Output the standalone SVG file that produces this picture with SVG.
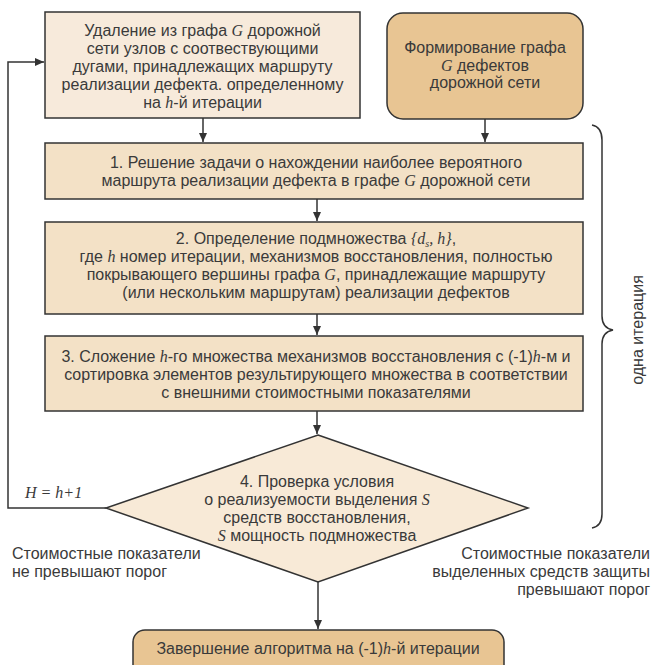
<svg xmlns="http://www.w3.org/2000/svg" width="651" height="665" viewBox="0 0 651 665">
<style>
.t{font-family:"Liberation Sans",Arial,sans-serif;font-size:16px;fill:#3a3a3a;text-anchor:middle}
.i{font-family:"Liberation Serif","Times New Roman",serif;font-style:italic}
.bx{stroke:#333;stroke-width:1.5}
.c{fill:none;stroke:#333;stroke-width:1.5}
</style>
<defs>
<marker id="ah" markerWidth="10" markerHeight="10" refX="9" refY="5" orient="auto" markerUnits="userSpaceOnUse">
<path d="M0,1 L9,5 L0,9 Z" fill="#333"/>
</marker>
</defs>
<rect width="651" height="665" fill="#fff"/>

<g id="connectors">
<path class="c" d="M106,508 H8 V62 H44" marker-end="url(#ah)"/>
<path class="c" d="M203,118 V142" marker-end="url(#ah)"/>
<path class="c" d="M485,119 V142" marker-end="url(#ah)"/>
<path class="c" d="M317,199 V221" marker-end="url(#ah)"/>
<path class="c" d="M317,314 V335" marker-end="url(#ah)"/>
<path class="c" d="M317,411 V434" marker-end="url(#ah)"/>
<path class="c" d="M318,582 V629" marker-end="url(#ah)"/>
</g>

<g id="nodeA">
<rect class="bx" x="45" y="12" width="315" height="106" fill="#f7eadb"/>
<text class="t" x="202.5" y="36">Удаление из графа <tspan class="i">G</tspan> дорожной</text>
<text class="t" x="202.5" y="54">сети узлов с соотвествующими</text>
<text class="t" x="202.5" y="72">дугами, принадлежащих маршруту</text>
<text class="t" x="202.5" y="90">реализации дефекта. определенному</text>
<text class="t" x="202.5" y="108">на <tspan class="i">h</tspan>-й итерации</text>
</g>

<g id="nodeB">
<rect class="bx" x="387" y="13" width="196" height="106" rx="16" fill="#e8c593"/>
<text class="t" x="485" y="53">Формирование графа</text>
<text class="t" x="485" y="71"><tspan class="i">G</tspan> дефектов</text>
<text class="t" x="485" y="88">дорожной сети</text>
</g>

<g id="node1">
<rect class="bx" x="45" y="143" width="538" height="56" fill="#f3e1c6"/>
<text class="t" x="316" y="168">1. Решение задачи о нахождении наиболее вероятного</text>
<text class="t" x="316" y="186">маршрута реализации дефекта в графе <tspan class="i">G</tspan> дорожной сети</text>
</g>

<g id="node2">
<rect class="bx" x="45" y="222" width="538" height="92" fill="#f3e1c6"/>
<text class="t" x="316" y="244">2. Определение подмножества <tspan class="i">{d</tspan><tspan class="i" font-size="10" dy="3">s</tspan><tspan class="i" dy="-3">, h}</tspan>,</text>
<text class="t" x="316" y="262">где <tspan class="i">h</tspan> номер итерации, механизмов восстановления, полностью</text>
<text class="t" x="316" y="280">покрывающего вершины графа <tspan class="i">G</tspan>, принадлежащие маршруту</text>
<text class="t" x="316" y="298">(или нескольким маршрутам) реализации дефектов</text>
</g>

<g id="node3">
<rect class="bx" x="45" y="336" width="538" height="75" fill="#f3e1c6"/>
<text class="t" x="316" y="362">3. Сложение <tspan class="i">h</tspan>-го множества механизмов восстановления с (-1)<tspan class="i">h</tspan>-м и</text>
<text class="t" x="316" y="380">сортировка элементов результирующего множества в соответствии</text>
<text class="t" x="316" y="398">с внешними стоимостными показателями</text>
</g>

<g id="node4">
<polygon class="bx" points="318,435 528,508 318,582 106,508" fill="#f8ead7"/>
<text class="t" x="317" y="487">4. Проверка условия</text>
<text class="t" x="317" y="505">о реализуемости выделения <tspan class="i">S</tspan></text>
<text class="t" x="317" y="523">средств восстановления,</text>
<text class="t" x="317" y="541"><tspan class="i">S</tspan> мощность подмножества</text>
</g>

<g id="nodeEnd">
<rect class="bx" x="133" y="630" width="371" height="50" rx="12" fill="#e8c593"/>
<text class="t" x="318" y="654">Завершение алгоритма на (-1)<tspan class="i">h</tspan>-й итерации</text>
</g>

<g id="labels">
<text class="t i" x="25" y="498" style="text-anchor:start">H = h+1</text>
<text class="t" x="12" y="559" style="text-anchor:start">Стоимостные показатели</text>
<text class="t" x="12" y="577" style="text-anchor:start">не превышают порог</text>
<text class="t" x="650" y="559" style="text-anchor:end">Стоимостные показатели</text>
<text class="t" x="650" y="577" style="text-anchor:end">выделенных средств защиты</text>
<text class="t" x="650" y="595" style="text-anchor:end">превышают порог</text>
</g>

<g id="brace">
<path class="c" d="M592,125 Q602,127 602,140 V316 Q602,328 613,330 Q602,332 602,344 V514 Q602,526 592,528"/>
<text class="t" transform="translate(643,330) rotate(-90)">одна итерация</text>
</g>
</svg>
